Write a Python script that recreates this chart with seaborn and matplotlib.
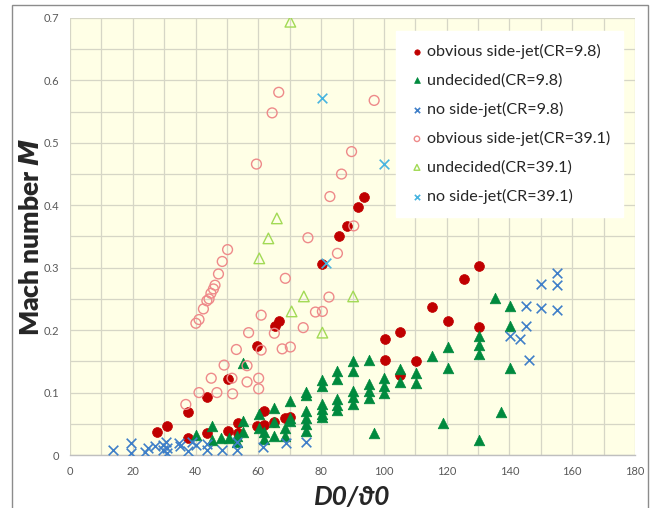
import matplotlib
matplotlib.use("Agg")
import matplotlib.pyplot as plt
import seaborn as sns
import pandas as pd
from matplotlib.patches import Rectangle
from matplotlib.ticker import MultipleLocator

# ---------------- data ----------------
obv98_x = [27.6, 30.8, 37.7, 37.6, 43.6, 43.6, 50.3, 50.3, 53.4, 53.4, 59.6, 59.6, 61.7, 61.7,
           65.2, 66.5, 65.1, 68.6, 70.2, 80.2, 85.7, 88.2, 91.6, 93.7, 100.4, 100.4, 105.2, 105.2,
           110.2, 115.3, 120.4, 125.4, 130.4, 130.4]
obv98_y = [0.037, 0.047, 0.069, 0.028, 0.093, 0.035, 0.122, 0.039, 0.052, 0.036, 0.175, 0.047, 0.070, 0.048,
           0.207, 0.214, 0.053, 0.060, 0.061, 0.306, 0.351, 0.367, 0.397, 0.414, 0.186, 0.152, 0.197, 0.128,
           0.151, 0.237, 0.214, 0.282, 0.303, 0.205]

und98_x = [40.1, 45.1, 45.1, 48.2, 50.7, 53.3, 53.3, 55.0, 55.2, 55.2, 60.1, 60.1, 61.7, 61.7,
           65.1, 65.1, 65.1, 68.6, 68.6, 70.2, 70.2, 70.2, 75.2, 75.2, 75.2, 75.2, 75.2, 75.2,
           80.3, 80.3, 80.3, 80.3, 80.3, 80.3, 85.2, 85.2, 85.2, 85.2, 85.2,
           90.2, 90.2, 90.2, 90.2, 90.2, 95.1, 95.1, 95.1, 95.1, 97.0,
           100.1, 100.1, 100.1, 105.2, 105.2, 110.1, 110.1, 115.3, 118.7, 120.4, 120.4,
           130.4, 130.4, 130.4, 130.4, 135.3, 137.4, 140.3, 140.3, 140.3]
und98_y = [0.032, 0.047, 0.024, 0.027, 0.028, 0.031, 0.021, 0.147, 0.054, 0.037, 0.066, 0.044, 0.037, 0.026,
           0.076, 0.053, 0.031, 0.044, 0.031, 0.086, 0.060, 0.054, 0.101, 0.096, 0.070, 0.060, 0.049, 0.038,
           0.120, 0.110, 0.081, 0.074, 0.066, 0.061, 0.135, 0.121, 0.090, 0.080, 0.072,
           0.150, 0.134, 0.102, 0.093, 0.082, 0.152, 0.114, 0.103, 0.092, 0.035,
           0.124, 0.111, 0.099, 0.138, 0.117, 0.131, 0.116, 0.158, 0.051, 0.173, 0.139,
           0.191, 0.176, 0.162, 0.024, 0.251, 0.069, 0.238, 0.207, 0.139]

no98_x = [13.7, 19.5, 19.5, 23.8, 25.0, 27.0, 29.5, 29.5, 30.5, 30.8, 30.8, 34.7, 35.1, 37.7, 38.8,
          40.0, 43.5, 43.5, 48.5, 53.3, 53.3, 61.6, 68.7, 75.2,
          140.3, 143.3, 145.2, 145.2, 146.3, 150.2, 150.2, 155.3, 155.3, 155.3]
no98_y = [0.008, 0.020, 0.004, 0.005, 0.011, 0.015, 0.016, 0.008, 0.021, 0.012, 0.004, 0.020, 0.014, 0.006, 0.021,
          0.016, 0.018, 0.008, 0.008, 0.021, 0.008, 0.013, 0.019, 0.021,
          0.191, 0.186, 0.206, 0.238, 0.152, 0.236, 0.274, 0.233, 0.272, 0.292]

obv391_x = [40.1, 41.1, 42.5, 43.6, 44.3, 44.9, 45.7, 46.2, 47.3, 48.5, 50.2,
            36.9, 41.1, 46.8, 45.0, 51.6, 51.8, 49.1, 56.4, 56.4, 53.0, 56.9, 60.1, 60.1, 60.9, 60.9,
            59.4, 64.4, 66.5, 65.1, 67.6, 70.2, 68.6, 74.3, 75.8, 78.2, 80.4, 82.5, 82.8, 85.2,
            86.5, 89.7, 90.4, 96.9]
obv391_y = [0.211, 0.217, 0.234, 0.247, 0.250, 0.259, 0.266, 0.272, 0.290, 0.310, 0.329,
            0.081, 0.100, 0.100, 0.123, 0.123, 0.098, 0.144, 0.143, 0.117, 0.169, 0.196, 0.123, 0.106, 0.168, 0.224,
            0.466, 0.548, 0.581, 0.195, 0.170, 0.173, 0.283, 0.204, 0.348, 0.229, 0.230, 0.253, 0.414, 0.323,
            0.450, 0.486, 0.367, 0.568]

und391_x = [60.3, 63.2, 65.9, 70.2, 70.6, 74.5, 80.4, 90.2]
und391_y = [0.315, 0.347, 0.379, 0.694, 0.230, 0.254, 0.196, 0.254]

no391_x = [80.2, 100.1, 81.4]
no391_y = [0.572, 0.466, 0.307]

labels = ["obvious side-jet(CR=9.8)", "undecided(CR=9.8)", "no side-jet(CR=9.8)",
          "obvious side-jet(CR=39.1)", "undecided(CR=39.1)", "no side-jet(CR=39.1)"]
x_ticks = [0, 20, 40, 60, 80, 100, 120, 140, 160, 180]
y_ticks = [0, 0.1, 0.2, 0.3, 0.4, 0.5, 0.6, 0.7]

# ---------------- plot ----------------
sns.set_theme(style="white")
plt.rcParams['font.family'] = ['Lato', 'DejaVu Sans']

fig = plt.figure(figsize=(6.57, 5.08), dpi=100)
ax = fig.add_axes([70/657, 1-455/508, 565/657, 437/508])
ax.set_facecolor('#FFFFE6')

series = [
    (obv98_x, obv98_y, dict(marker='o', s=50, color='#C00000', edgecolor='#C00000', linewidth=0.5)),
    (und98_x, und98_y, dict(marker='^', s=58, color='#008A3E', edgecolor='#008A3E', linewidth=0.5)),
    (no98_x, no98_y, dict(marker='x', s=48, color='#3F7FC8', linewidth=1.2)),
    (obv391_x, obv391_y, dict(marker='o', s=50, facecolor='none', edgecolor='#EE8A8A', linewidth=1.0)),
    (und391_x, und391_y, dict(marker='^', s=58, facecolor='none', edgecolor='#A2DA55', linewidth=1.0)),
    (no391_x, no391_y, dict(marker='x', s=48, color='#47B4E0', linewidth=1.2)),
]
for (xs, ys, kw), lab in zip(series, labels):
    df = pd.DataFrame({'x': xs, 'y': ys})
    sns.scatterplot(data=df, x='x', y='y', ax=ax, label=lab, zorder=3, **kw)

ax.set_xlim(0, 180)
ax.set_ylim(0, 0.7)
ax.set_xticks(x_ticks)
ax.set_yticks(y_ticks)
ax.set_xticklabels([str(t) for t in x_ticks])
ax.set_yticklabels(['0'] + [f'{t:.1f}' for t in y_ticks[1:]])
ax.xaxis.set_minor_locator(MultipleLocator(10))
ax.yaxis.set_minor_locator(MultipleLocator(0.05))
ax.grid(True, which='both', color='#D6D6C6', linewidth=0.9, zorder=0)
ax.set_axisbelow(True)
ax.tick_params(axis='both', which='both', length=0, labelsize=8, labelcolor='#595959', pad=8)
for side in ['top', 'right', 'left']:
    ax.spines[side].set_visible(False)
ax.spines['bottom'].set_color('#BFBFBF')
ax.spines['bottom'].set_linewidth(1.0)

ax.set_xlabel('D0/ϑ0', fontsize=19, fontweight='bold', fontstyle='italic', labelpad=6)
ax.set_ylabel('Mach number $\\boldsymbol{M}$', fontsize=19, fontweight='heavy')
ax.yaxis.set_label_coords(-0.047, 0.5)

leg = ax.legend(loc='upper left', bbox_to_anchor=(0.577, 0.970), frameon=True, fancybox=False,
                framealpha=1.0, edgecolor='white', facecolor='white', fontsize=11.6,
                markerscale=0.55, handletextpad=0.1, handlelength=1.0, labelspacing=0.88,
                borderpad=0.8, borderaxespad=0)
leg.set_zorder(5)

fig.patches.append(Rectangle((12/657, -0.05), (648-12)/657, 1.05 - 5/508,
                             transform=fig.transFigure, fill=False, edgecolor='#8C8C8C',
                             linewidth=1.0))

fig.savefig('out.png', dpi=100)
